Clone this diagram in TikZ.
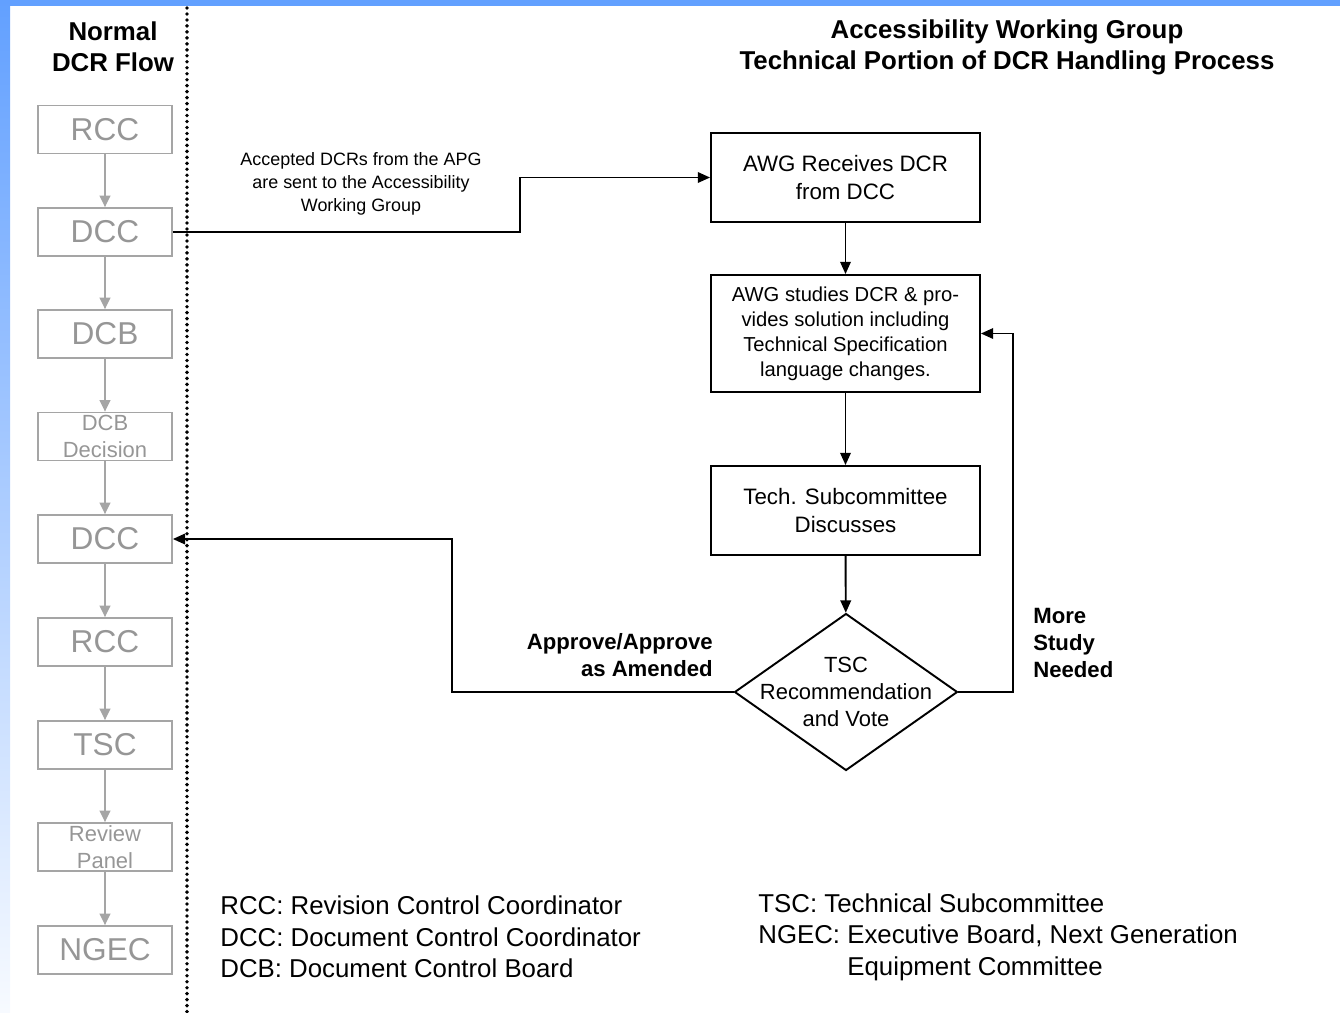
\documentclass[tikz,border=0pt]{standalone}
\usepackage{fontspec}
\setmainfont{Liberation Sans}
\usetikzlibrary{arrows.meta,shapes.geometric}
\definecolor{stripblue}{RGB}{98,160,255}
\definecolor{oldline}{RGB}{165,165,165}
\definecolor{oldtext}{RGB}{150,150,150}
\begin{document}
\begin{tikzpicture}[x=0.02cm,y=-0.02cm,
    oldbox/.style={draw=oldline,line width=1pt,minimum width=2.68cm,minimum height=0.96cm,
      inner sep=0pt,text=oldtext,align=center,font=\fontsize{18}{20}\selectfont},
    oldsmall/.style={oldbox,font=\fontsize{12.5}{15.4}\selectfont},
    awgbox/.style={draw,line width=1.1pt,minimum width=5.38cm,minimum height=1.78cm,
      inner sep=0pt,align=center,font=\fontsize{12.7}{15.4}\selectfont},
    decision/.style={draw,diamond,line width=1.1pt,minimum width=4.46cm,minimum height=3.14cm,inner sep=0pt},
    oldflow/.style={draw=oldline,line width=1pt,-{Triangle[length=6.5pt,width=6pt]}},
    flow/.style={line width=1.1pt,-{Triangle[length=7pt,width=6pt]}},
    heading/.style={align=center,font=\bfseries\fontsize{14.7}{17.6}\selectfont},
    note/.style={inner sep=0pt,font=\bfseries\fontsize{12.6}{15}\selectfont},
    legend/.style={inner sep=0pt,align=left,anchor=west,font=\fontsize{14.7}{17.9}\selectfont}]
  \useasboundingbox (0,0) rectangle (1340,1012);
  % frame
  \fill[stripblue] (0,0) rectangle (1340,6);
  \shade[top color=stripblue,middle color=stripblue!60!white,bottom color=stripblue!5!white]
    (0,0) rectangle (10,1012);
  \draw[line width=2.2pt,line cap=round,dash pattern=on 0pt off 3.4pt] (187,8) -- (187,1012);
  % headings
  \node[heading] (normal) at (113,47) {Normal\\DCR Flow};
  \node[heading] (awgtitle) at (1007,47) {Accessibility Working Group\\Technical Portion of DCR Handling Process};
  % normal flow
  \path
    (105,129.5) node[oldbox] (rcc1){RCC}
    (105,232) node[oldbox] (dcc1){DCC}
    (105,334) node[oldbox] (dcb){DCB}
    (105,436.5) node[oldsmall] (dcbdec){DCB\\Decision}
    (105,539) node[oldbox] (dcc2){DCC}
    (105,642) node[oldbox] (rcc2){RCC}
    (105,745) node[oldbox] (tsc){TSC}
    (105,847) node[oldsmall] (review){Review\\Panel}
    (105,950) node[oldbox] (ngec){NGEC};
  \begin{scope}[oldflow]
    \draw (rcc1) to (dcc1);
    \draw (dcc1) to (dcb);
    \draw (dcb) to (dcbdec);
    \draw (dcbdec) to (dcc2);
    \draw (dcc2) to (rcc2);
    \draw (rcc2) to (tsc);
    \draw (tsc) to (review);
    \draw (review) to (ngec);
  \end{scope}
  % AWG process
  \node[awgbox] (receive) at (845.5,177.5) {AWG Receives DCR\\from DCC};
  \node[awgbox,minimum height=2.34cm,font=\fontsize{11.5}{14.2}\selectfont] (study) at (845.5,333.5)
    {AWG studies DCR \& pro-\\vides solution including\\Technical Specification\\language changes.};
  \node[awgbox] (discuss) at (845.5,510.5) {Tech. Subcommittee\\Discusses};
  \node[decision] (vote) at (846,692) {};
  \node[align=center,font=\fontsize{12.5}{15.4}\selectfont] (votetext) at (vote) {TSC\\Recommendation\\and Vote};
  \begin{scope}[flow]
    \draw (dcc1.east) -- ++(347,0) |- (receive.west);
    \draw (receive) to (study);
    \draw (study) to (discuss);
    \draw (discuss) to (vote);
    \draw (vote.west) -- ++(-282,0) |- (dcc2.east);
    \draw (vote.east) -- ++(55,0) |- (study.east);
  \end{scope}
  \node[align=center,font=\fontsize{10.2}{13}\selectfont] (sent) at (361,184)
    {Accepted DCRs from the APG\\are sent to the Accessibility\\Working Group};
  \node[note,align=right,anchor=east] (approve) at (713,655) {Approve/Approve\\as Amended};
  \node[note,align=left,anchor=west,font=\bfseries\fontsize{12.6}{15.4}\selectfont] (more) at (1033,643) {More\\Study\\Needed};
  % legend
  \node[legend] (legendl) at (220,937)
    {RCC: Revision Control Coordinator\\DCC: Document Control Coordinator\\DCB: Document Control Board};
  \node[legend] (legendr) at (758,937)
    {TSC: Technical Subcommittee\\NGEC: Executive Board, Next Generation\\\phantom{NGEC:\ }Equipment Committee};
\end{tikzpicture}
\end{document}
